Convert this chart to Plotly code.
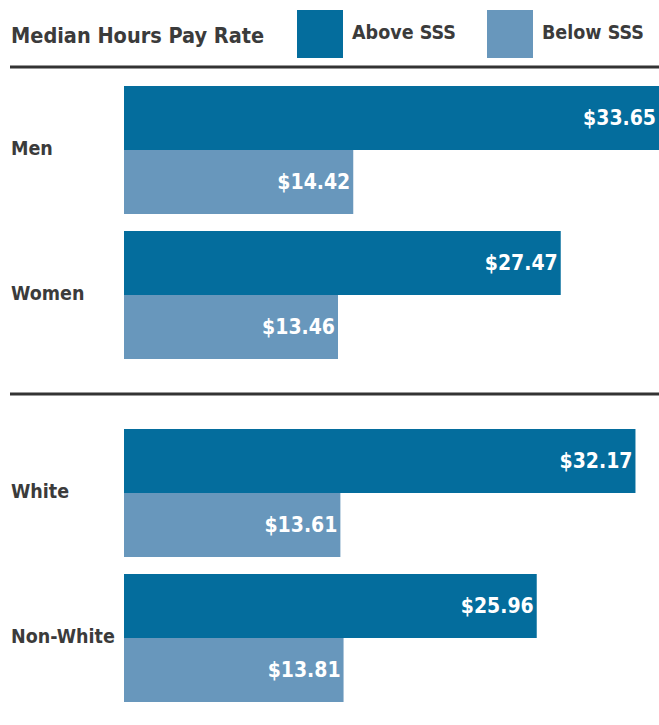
import plotly.graph_objects as go

# ---- data ----
categories = ["Men", "Women", "White", "Non-White"]
sections = [0, 0, 1, 1]           # which block each category belongs to
above_sss = [33.65, 27.47, 32.17, 25.96]
below_sss = [14.42, 13.46, 13.61, 13.81]
series_names = ["Above SSS", "Below SSS"]
series_colors = ["#046d9d", "#6897bc"]
title_text = "Median Hours Pay Rate"

# ---- layout constants (pixel units on the y axis) ----
W, H = 659, 725
FONT = "DejaVu Sans Condensed, Liberation Sans Narrow, Arial Narrow, sans-serif"
TEXT_COLOR = "#3b3b3b"
BAR_H = 64
section_tops = [86, 429]
group_step = 145
divider_y = [67, 394]

def group_top(i):
    s = sections[i]
    j = sum(1 for k in range(i) if sections[k] == s)
    return section_tops[s] + j * group_step

tops = [group_top(i) for i in range(len(categories))]
above_y = [t + BAR_H / 2 for t in tops]
below_y = [t + BAR_H * 1.5 for t in tops]
centers = [t + BAR_H for t in tops]

fig = go.Figure()
for vals, ys, name, color in [
    (above_sss, above_y, series_names[0], series_colors[0]),
    (below_sss, below_y, series_names[1], series_colors[1]),
]:
    fig.add_trace(go.Bar(
        x=vals, y=ys, orientation="h", width=BAR_H, name=name,
        marker=dict(color=color, line=dict(width=0)),
        text=[f"${v:.2f}" for v in vals],
        textposition="inside", insidetextanchor="end",
        textfont=dict(family=FONT, size=21, color="white", weight="bold"),
        hoverinfo="skip", showlegend=False,
    ))

annotations = []
for cat, c in zip(categories, centers):
    annotations.append(dict(
        x=9 / W, xref="paper", y=c - 2, yref="y", text=f"<b>{cat}</b>",
        showarrow=False, xanchor="left", yanchor="middle",
        font=dict(family=FONT, size=19.5, color=TEXT_COLOR),
    ))

annotations.append(dict(
    x=9 / W, xref="paper", y=35, yref="y", text=f"<b>{title_text}</b>",
    showarrow=False, xanchor="left", yanchor="middle",
    font=dict(family=FONT, size=21.5, color=TEXT_COLOR),
))

shapes = []
legend_box_x = [297, 487]
for bx, name, color in zip(legend_box_x, series_names, series_colors):
    shapes.append(dict(type="rect", xref="paper", yref="y",
                       x0=bx / W, x1=(bx + 46) / W, y0=10, y1=58,
                       fillcolor=color, line=dict(width=0)))
    annotations.append(dict(
        x=(bx + 53) / W, xref="paper", y=32, yref="y", text=f"<b>{name}</b>",
        showarrow=False, xanchor="left", yanchor="middle",
        font=dict(family=FONT, size=19.5, color=TEXT_COLOR),
    ))

for dy in divider_y:
    shapes.append(dict(type="line", xref="paper", yref="y",
                       x0=10 / W, x1=1, y0=dy, y1=dy,
                       line=dict(color="#333333", width=3)))

fig.update_layout(
    width=W, height=H,
    margin=dict(l=0, r=0, t=0, b=0),
    paper_bgcolor="white", plot_bgcolor="white",
    barmode="overlay",
    xaxis=dict(domain=[124 / W, 1], range=[0, max(above_sss)],
               visible=False, fixedrange=True),
    yaxis=dict(range=[H, 0], visible=False, fixedrange=True),
    shapes=shapes, annotations=annotations,
    uniformtext=dict(minsize=10, mode="show"),
)

fig.write_html("out.html",
               config={"displayModeBar": False},
               post_script="document.body.style.margin='0';")
